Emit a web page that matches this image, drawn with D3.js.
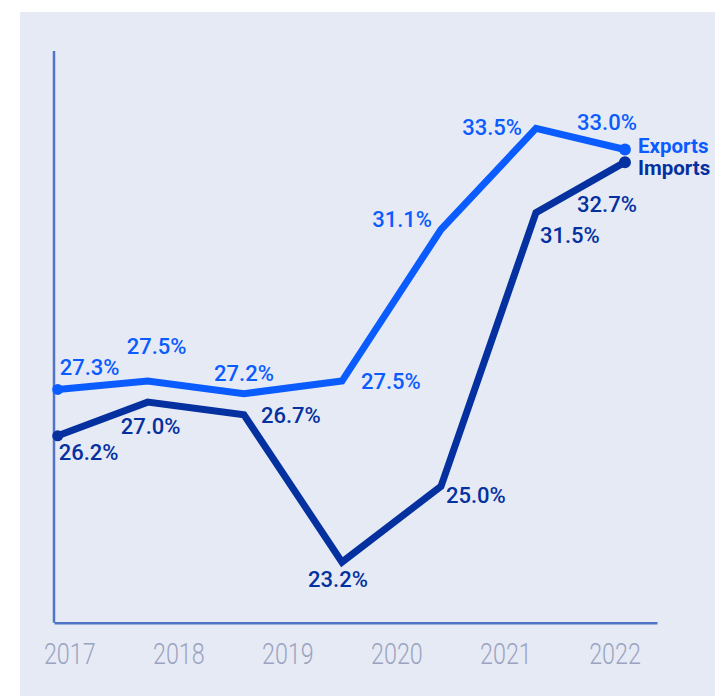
<!DOCTYPE html>
<html>
<head>
<meta charset="utf-8">
<script src="https://cdn.jsdelivr.net/npm/d3@7"></script>
<style>
  html, body { margin: 0; padding: 0; background: #ffffff; }
  svg { display: block; }
</style>
</head>
<body>
<svg id="chart" width="715" height="697"></svg>
<script>
// Reporting periods (fractional years on the time axis)
const periods = [2016.894, 2017.719, 2018.602, 2019.501, 2020.409, 2021.280, 2022.096];
// Share values, percent
const exportsValues = [27.3, 27.5, 27.2, 27.5, 31.1, 33.5, 33.0];
const importsValues = [26.2, 27.0, 26.7, 23.2, 25.0, 31.5, 32.7];
// Year ticks shown under the axis
const yearTicks = [2017, 2018, 2019, 2020, 2021, 2022];
const seriesNames = ["Exports", "Imports"];

// Label placement around each point: [text-anchor, dx, dy]
const exportsLabelPlacement = [
  ["start", 2, -14], ["middle", 9, -27], ["middle", 0, -13], ["start", 19, 8],
  ["end", -9, -2], ["end", -14, 7], ["middle", -18, -20]
];
const importsLabelPlacement = [
  ["start", 1, 24], ["middle", 3, 32], ["start", 17, 8], ["middle", -4, 25],
  ["start", 5, 17], ["start", 4, 30], ["middle", -18, 50]
];

const colors = { Exports: "#0a5cff", Imports: "#05309f" };

const svg = d3.select("#chart");

// Background panel
svg.append("rect")
  .attr("x", 20).attr("y", 12)
  .attr("width", 695).attr("height", 684)
  .attr("fill", "#e6eaf5");

const x = d3.scaleLinear().domain([2016.86, 2022.39]).range([54, 657]);
const y = d3.scaleLinear().domain([21.76, 35.34]).range([622.7, 51]);

// Axes
const axisColor = "#5174c9";
svg.append("line")
  .attr("x1", x.range()[0]).attr("x2", x.range()[0])
  .attr("y1", y.range()[1]).attr("y2", y.range()[0])
  .attr("stroke", axisColor).attr("stroke-width", 2.5);

const xAxis = svg.append("g")
  .attr("transform", `translate(0,${y.range()[0]})`)
  .call(d3.axisBottom(x).tickValues(yearTicks).tickFormat(d3.format("d")).tickSize(0).tickPadding(0));
xAxis.select(".domain").attr("stroke", axisColor).attr("stroke-width", 2.5);
xAxis.selectAll(".tick text")
  .attr("x", 0)
  .attr("y", 41)
  .attr("dy", 0)
  .attr("fill", "#9ba3c0")
  .style("font-family", "Roboto, 'Noto Sans', sans-serif")
  .style("font-weight", 300)
  .style("font-size", "29.5px")
  .attr("transform", "scale(0.79,1)");

const line = d3.line()
  .x((d, i) => x(periods[i]))
  .y(d => y(d));

const series = [
  { name: "Exports", values: exportsValues, place: exportsLabelPlacement, legendDy: -4 },
  { name: "Imports", values: importsValues, place: importsLabelPlacement, legendDy: 6 }
];

// Draw imports first so exports sit on top
series.slice().reverse().forEach(s => {
  const c = colors[s.name];
  svg.append("path")
    .datum(s.values)
    .attr("d", line)
    .attr("fill", "none")
    .attr("stroke", c)
    .attr("stroke-width", 7)
    .attr("stroke-linejoin", "miter");

  const last = s.values.length - 1;
  svg.append("circle")
    .attr("cx", x(periods[0])).attr("cy", y(s.values[0]))
    .attr("r", 5.5).attr("fill", c);
  svg.append("circle")
    .attr("cx", x(periods[last])).attr("cy", y(s.values[last]))
    .attr("r", 6).attr("fill", c);
});

series.forEach(s => {
  const c = colors[s.name];
  const labels = svg.append("g");
  s.values.forEach((v, i) => {
    const [anchor, dx, dy] = s.place[i];
    labels.append("text")
      .attr("x", x(periods[i]) + dx)
      .attr("y", y(v) + dy)
      .attr("text-anchor", anchor)
      .attr("fill", c)
      .style("font-family", "Roboto, 'Noto Sans', sans-serif")
      .style("font-weight", 500)
      .style("font-size", "22px")
      .text(d3.format(".1f")(v) + "%");
  });
  const last = s.values.length - 1;
  svg.append("text")
    .attr("x", x(periods[last]) + 13)
    .attr("y", y(s.values[last]) + s.legendDy)
    .attr("dominant-baseline", "central")
    .attr("fill", c)
    .style("font-family", "Roboto, 'Noto Sans', sans-serif")
    .style("font-weight", 700)
    .style("font-size", "20.5px")
    .text(s.name);
});
</script>
</body>
</html>
